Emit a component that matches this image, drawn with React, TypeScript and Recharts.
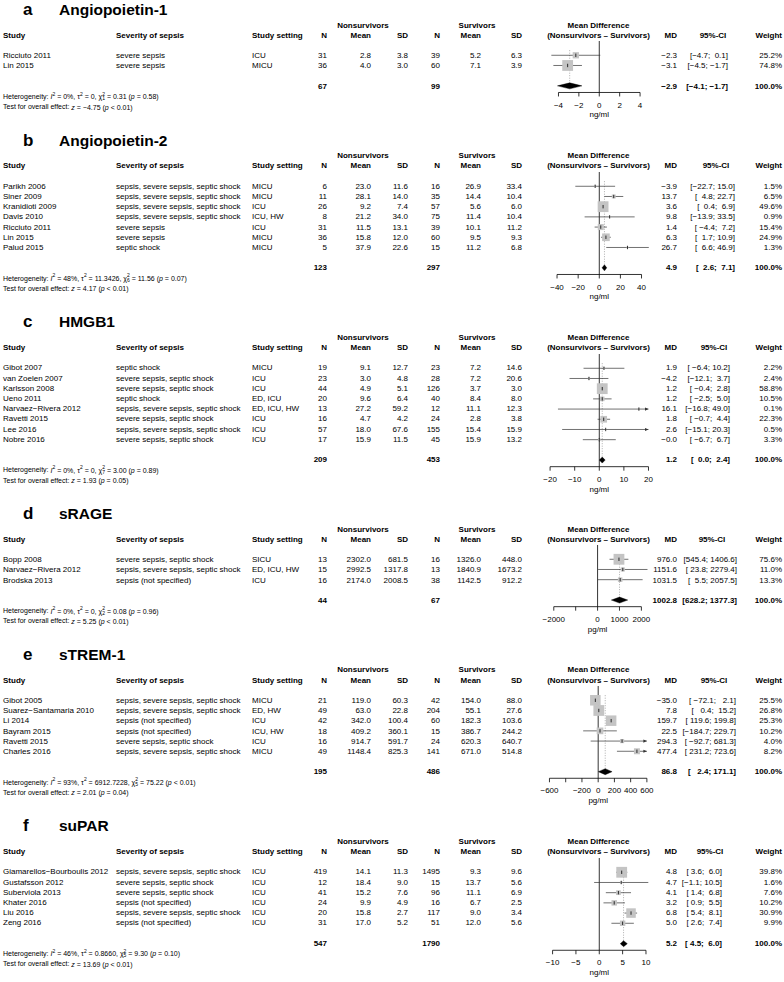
import React from 'react';
import { ScatterChart, Scatter, XAxis, YAxis, ErrorBar, ReferenceLine } from 'recharts';

const FONT = "'Liberation Sans', Arial, Helvetica, sans-serif";

// study, severity, setting, N, mean, SD (nonsurvivors), N, mean, SD (survivors), MD, lower, upper, weight %
type Row = [string, string, string, number, number, number, number, number, number, number, number, number, number];

const angiopoietin1Rows: Row[] = [
  ['Ricciuto 2011', 'severe sepsis', 'ICU', 31, 2.8, 3.8, 39, 5.2, 6.3, -2.3, -4.7, 0.1, 25.2],
  ['Lin 2015', 'severe sepsis', 'MICU', 36, 4.0, 3.0, 60, 7.1, 3.9, -3.1, -4.5, -1.7, 74.8],
];
const angiopoietin2Rows: Row[] = [
  ['Parikh 2006', 'sepsis, severe sepsis, septic shock', 'MICU', 6, 23.0, 11.6, 16, 26.9, 33.4, -3.9, -22.7, 15.0, 1.5],
  ['Siner 2009', 'sepsis, severe sepsis, septic shock', 'MICU', 11, 28.1, 14.0, 35, 14.4, 10.4, 13.7, 4.8, 22.7, 6.5],
  ['Kranidioti 2009', 'sepsis, severe sepsis, septic shock', 'ICU', 26, 9.2, 7.4, 57, 5.6, 6.0, 3.6, 0.4, 6.9, 49.6],
  ['Davis 2010', 'sepsis, severe sepsis, septic shock', 'ICU, HW', 8, 21.2, 34.0, 75, 11.4, 10.4, 9.8, -13.9, 33.5, 0.9],
  ['Ricciuto 2011', 'severe sepsis', 'ICU', 31, 11.5, 13.1, 39, 10.1, 11.2, 1.4, -4.4, 7.2, 15.4],
  ['Lin 2015', 'severe sepsis', 'MICU', 36, 15.8, 12.0, 60, 9.5, 9.3, 6.3, 1.7, 10.9, 24.9],
  ['Palud 2015', 'septic shock', 'MICU', 5, 37.9, 22.6, 15, 11.2, 6.8, 26.7, 6.6, 46.9, 1.3],
];
const hmgb1Rows: Row[] = [
  ['Gibot 2007', 'septic shock', 'MICU', 19, 9.1, 12.7, 23, 7.2, 14.6, 1.9, -6.4, 10.2, 2.2],
  ['van Zoelen 2007', 'severe sepsis, septic shock', 'ICU', 23, 3.0, 4.8, 28, 7.2, 20.6, -4.2, -12.1, 3.7, 2.4],
  ['Karlsson 2008', 'severe sepsis, septic shock', 'ICU', 44, 4.9, 5.1, 126, 3.7, 3.0, 1.2, -0.4, 2.8, 58.8],
  ['Ueno 2011', 'septic shock', 'ED, ICU', 20, 9.6, 6.4, 40, 8.4, 8.0, 1.2, -2.5, 5.0, 10.5],
  ['Narvaez\u2212Rivera 2012', 'sepsis, severe sepsis, septic shock', 'ED, ICU, HW', 13, 27.2, 59.2, 12, 11.1, 12.3, 16.1, -16.8, 49.0, 0.1],
  ['Ravetti 2015', 'severe sepsis, septic shock', 'ICU', 16, 4.7, 4.2, 24, 2.8, 3.8, 1.8, -0.7, 4.4, 22.3],
  ['Lee 2016', 'sepsis, severe sepsis, septic shock', 'ICU', 57, 18.0, 67.6, 155, 15.4, 15.9, 2.6, -15.1, 20.3, 0.5],
  ['Nobre 2016', 'severe sepsis, septic shock', 'ICU', 17, 15.9, 11.5, 45, 15.9, 13.2, -0.0, -6.7, 6.7, 3.3],
];
const sRageRows: Row[] = [
  ['Bopp 2008', 'severe sepsis, septic shock', 'SICU', 13, 2302.0, 681.5, 16, 1326.0, 448.0, 976.0, 545.4, 1406.6, 75.6],
  ['Narvaez\u2212Rivera 2012', 'sepsis, severe sepsis, septic shock', 'ED, ICU, HW', 15, 2992.5, 1317.8, 13, 1840.9, 1673.2, 1151.6, 23.8, 2279.4, 11.0],
  ['Brodska 2013', 'sepsis (not specified)', 'ICU', 16, 2174.0, 2008.5, 38, 1142.5, 912.2, 1031.5, 5.5, 2057.5, 13.3],
];
const sTrem1Rows: Row[] = [
  ['Gibot 2005', 'sepsis, severe sepsis, septic shock', 'MICU', 21, 119.0, 60.3, 42, 154.0, 88.0, -35.0, -72.1, 2.1, 25.5],
  ['Suarez\u2212Santamaria 2010', 'sepsis, severe sepsis, septic shock', 'ED, HW', 49, 63.0, 22.8, 204, 55.1, 27.6, 7.8, 0.4, 15.2, 26.8],
  ['Li 2014', 'sepsis (not specified)', 'ICU', 42, 342.0, 100.4, 60, 182.3, 103.6, 159.7, 119.6, 199.8, 25.3],
  ['Bayram 2015', 'sepsis (not specified)', 'ICU, HW', 18, 409.2, 360.1, 15, 386.7, 244.2, 22.5, -184.7, 229.7, 10.2],
  ['Ravetti 2015', 'severe sepsis, septic shock', 'ICU', 16, 914.7, 591.7, 24, 620.3, 640.7, 294.3, -92.7, 681.3, 4.0],
  ['Charles 2016', 'sepsis, severe sepsis, septic shock', 'MICU', 49, 1148.4, 825.3, 141, 671.0, 514.8, 477.4, 231.2, 723.6, 8.2],
];
const suparRows: Row[] = [
  ['Giamarellos\u2212Bourboulis 2012', 'sepsis, severe sepsis, septic shock', 'ICU', 419, 14.1, 11.3, 1495, 9.3, 9.6, 4.8, 3.6, 6.0, 39.8],
  ['Gustafsson 2012', 'severe sepsis, septic shock', 'ICU', 12, 18.4, 9.0, 15, 13.7, 5.6, 4.7, -1.1, 10.5, 1.6],
  ['Suberviola 2013', 'severe sepsis, septic shock', 'ICU', 41, 15.2, 7.6, 96, 11.1, 6.9, 4.1, 1.4, 6.8, 7.6],
  ['Khater 2016', 'sepsis (not specified)', 'ICU', 24, 9.9, 4.9, 16, 6.7, 2.5, 3.2, 0.9, 5.5, 10.2],
  ['Liu 2016', 'sepsis, severe sepsis, septic shock', 'ICU', 20, 15.8, 2.7, 117, 9.0, 3.4, 6.8, 5.4, 8.1, 30.9],
  ['Zeng 2016', 'sepsis (not specified)', 'ICU', 31, 17.0, 5.2, 51, 12.0, 5.6, 5.0, 2.6, 7.4, 9.9],
];

// N nonsurvivors, N survivors, MD, lower, upper
const angiopoietin1Pooled = [67, 99, -2.9, -4.1, -1.7];
const angiopoietin2Pooled = [123, 297, 4.9, 2.6, 7.1];
const hmgb1Pooled = [209, 453, 1.2, 0.0, 2.4];
const sRagePooled = [44, 67, 1002.8, 628.2, 1377.3];
const sTrem1Pooled = [195, 486, 86.8, 2.4, 171.1];
const suparPooled = [547, 1790, 5.2, 4.5, 6.0];

// I2, tau2, chi2, df, p (heterogeneity), z, p (overall)
const angiopoietin1Stats = ['0%', '0', '0.31', '1', '= 0.58', '\u22124.75', '< 0.01'];
const angiopoietin2Stats = ['48%', '11.3426', '11.56', '6', '= 0.07', '4.17', '< 0.01'];
const hmgb1Stats = ['0%', '0', '3.00', '7', '= 0.89', '1.93', '= 0.05'];
const sRageStats = ['0%', '0', '0.08', '2', '= 0.96', '5.25', '< 0.01'];
const sTrem1Stats = ['93%', '6912.7228', '75.22', '5', '< 0.01', '2.01', '= 0.04'];
const suparStats = ['46%', '0.8660', '9.30', '5', '= 0.10', '13.69', '< 0.01'];

const angiopoietin1Ticks = [-4, -2, 0, 2, 4];
const angiopoietin2Ticks = [-40, -20, 0, 20, 40];
const hmgb1Ticks = [-20, -10, 0, 10, 20];
const sRageTicks = [-2000, -1000, 0, 1000, 2000];
const sTrem1Ticks = [-600, -400, -200, 0, 200, 400, 600];
const suparTicks = [-10, -5, 0, 5, 10];

const panelLetters = ['a', 'b', 'c', 'd', 'e', 'f'];
const panelTitles = ['Angiopoietin-1', 'Angiopoietin-2', 'HMGB1', 'sRAGE', 'sTREM-1', 'suPAR'];
const panelUnits = ['ng/ml', 'ng/ml', 'ng/ml', 'pg/ml', 'pg/ml', 'ng/ml'];

// layout: pixel of zero, pixels per unit, half width of plot range, arrow clip, CI column
const PANEL_LAYOUT = [
  { zero: 599.3, k: 10.2, half: 4.9, arrowAt: Infinity, ciEnd: 728, ciHead: 713, unlabeled: [] as number[] },
  { zero: 599.3, k: 1.056, half: 47.5, arrowAt: Infinity, ciEnd: 735, ciHead: 716, unlabeled: [] },
  { zero: 599.3, k: 2.46, half: 20, arrowAt: 20, ciEnd: 730, ciHead: 714, unlabeled: [] },
  { zero: 597.6, k: 0.0219, half: 2300, arrowAt: Infinity, ciEnd: 737, ciHead: 712, unlabeled: [-1000] },
  { zero: 598.2, k: 0.0812, half: 600, arrowAt: 600, ciEnd: 736, ciHead: 714, unlabeled: [-400] },
  { zero: 599.3, k: 4.67, half: 10.7, arrowAt: Infinity, ciEnd: 722, ciHead: 710, unlabeled: [] },
];

const panels = [
  { rows: angiopoietin1Rows, pooled: angiopoietin1Pooled, stats: angiopoietin1Stats, ticks: angiopoietin1Ticks },
  { rows: angiopoietin2Rows, pooled: angiopoietin2Pooled, stats: angiopoietin2Stats, ticks: angiopoietin2Ticks },
  { rows: hmgb1Rows, pooled: hmgb1Pooled, stats: hmgb1Stats, ticks: hmgb1Ticks },
  { rows: sRageRows, pooled: sRagePooled, stats: sRageStats, ticks: sRageTicks },
  { rows: sTrem1Rows, pooled: sTrem1Pooled, stats: sTrem1Stats, ticks: sTrem1Ticks },
  { rows: suparRows, pooled: suparPooled, stats: suparStats, ticks: suparTicks },
].map((p, i) => ({ ...p, ...PANEL_LAYOUT[i], letter: panelLetters[i], title: panelTitles[i], unit: panelUnits[i] }));

type Panel = (typeof panels)[number];

const U = 10.2; // row height
const BOX_MAX = 10.8;
const FS = 8;

const num1 = (v: number) => (v < 0 || Object.is(v, -0) ? '\u2212' : '') + Math.abs(v).toFixed(1);
const tickNum = (v: number) => (v < 0 ? '\u2212' : '') + Math.abs(v);

function ciStrings(lows: number[], highs: number[]) {
  const l = lows.map(num1);
  const h = highs.map(num1);
  const wl = Math.max(...l.map((s) => s.length));
  const wh = Math.max(...h.map((s) => s.length));
  return l.map((s, i) => `[${s.padStart(wl)}; ${h[i].padStart(wh)}]`);
}

function ForestChart({ p, top }: { p: Panel; top: number }) {
  const n = p.rows.length;
  const yMin = 1.6;
  const yMax = n + 4 + 6.6 / U;
  const plotH = (yMax - yMin) * U;
  const left = p.zero - p.half * p.k;
  const right = p.zero + p.half * p.k;
  const wmax = Math.max(...p.rows.map((r) => r[12]));
  const studies = p.rows.map((r, i) => {
    const lo = Math.max(r[10], -p.arrowAt);
    const hi = Math.min(r[11], p.arrowAt);
    return { x: r[9], y: 3 + i, w: r[12], err: [r[9] - lo, hi - r[9]] };
  });
  const arrows = p.rows
    .map((r, i) => ({ x: r[11] > p.arrowAt ? p.arrowAt : -p.arrowAt, y: 3 + i, dir: r[11] > p.arrowAt ? 1 : -1, on: r[11] > p.arrowAt || r[10] < -p.arrowAt }))
    .filter((a) => a.on);
  const P = n + 4;
  const [, , md, lo, hi] = p.pooled;
  const dh = 3 / U;
  const diamond = [
    { x: lo, y: P },
    { x: md, y: P - dh },
    { x: hi, y: P },
    { x: md, y: P + dh },
  ];
  const height = plotH + 30;

  return (
    <div style={{ position: 'absolute', left: 0, top: top + yMin * U, width: 784, height }}>
      <ScatterChart width={784} height={height} margin={{ top: 0, right: 784 - right, bottom: 0, left }}>
        <XAxis
          type="number"
          dataKey="x"
          domain={[-p.half, p.half]}
          allowDataOverflow
          ticks={p.ticks}
          interval={0}
          axisLine={false}
          tickLine={{ stroke: '#000', strokeWidth: 0.8 }}
          tickSize={4}
          tickMargin={5.4}
          height={30}
          tick={{ fontSize: FS, fill: '#000', fontFamily: FONT }}
          tickFormatter={(v: number) => (p.unlabeled.includes(v) ? '' : tickNum(v))}
          label={{ value: p.unit, position: 'insideBottom', offset: 5, fontSize: FS, fill: '#000', fontFamily: FONT }}
        />
        <YAxis type="number" dataKey="y" domain={[yMin, yMax]} reversed hide allowDataOverflow />
        <ReferenceLine x={0} stroke="#000" strokeWidth={0.8} />
        <ReferenceLine
          segment={[{ x: md, y: 2.5 }, { x: md, y: P }]}
          stroke="#8a8a8a"
          strokeWidth={0.7}
          strokeDasharray="1 1.5"
        />
        <ReferenceLine
          segment={[{ x: p.ticks[0], y: yMax }, { x: p.ticks[p.ticks.length - 1], y: yMax }]}
          stroke="#000"
          strokeWidth={0.8}
          ifOverflow="visible"
        />
        <Scatter
          data={studies}
          isAnimationActive={false}
          shape={(s: any) => {
            const side = BOX_MAX * Math.sqrt(s.payload.w / wmax);
            return <rect x={s.cx - side / 2} y={s.cy - side / 2} width={side} height={side} fill="#c4c4c4" />;
          }}
        />
        <Scatter
          data={studies}
          isAnimationActive={false}
          shape={(s: any) => <line x1={s.cx} x2={s.cx} y1={s.cy - 1.7} y2={s.cy + 1.7} stroke="#000" strokeWidth={0.8} />}
        >
          <ErrorBar dataKey="err" direction="x" width={0} stroke="#333" strokeWidth={0.7} />
        </Scatter>
        <Scatter
          data={arrows}
          isAnimationActive={false}
          shape={(s: any) => {
            const d = s.payload.dir;
            return (
              <path
                d={`M${s.cx} ${s.cy} L${s.cx - d * 3.5} ${s.cy - 1.6} L${s.cx - d * 3.5} ${s.cy + 1.6} Z`}
                fill="#333"
              />
            );
          }}
        />
        <Scatter
          data={diamond}
          isAnimationActive={false}
          shape={() => <g />}
          line={(lp: any) => (
            <polygon points={(lp.points || []).map((q: any) => `${q.x},${q.y}`).join(' ')} fill="#000" stroke="#000" strokeWidth={0.4} />
          )}
        />
      </ScatterChart>
    </div>
  );
}

const COL = {
  study: 3,
  severity: 116,
  setting: 252,
  n1: 327,
  mean1: 371,
  sd1: 408,
  n2: 440,
  mean2: 481,
  sd2: 522,
  md: 677,
  weight: 782,
  nonsurv: 363,
  surv: 477,
  plot: 598.5,
};

function PanelText({ p, top }: { p: Panel; top: number }) {
  const n = p.rows.length;
  const y = (L: number) => top + L * U;
  const cis = ciStrings([...p.rows.map((r) => r[10]), p.pooled[3]], [...p.rows.map((r) => r[11]), p.pooled[4]]);
  const T = (x: number, yy: number, s: string | number, anchor = 'start', bold = false, key?: string) => (
    <text
      key={key}
      x={x}
      y={yy}
      textAnchor={anchor as any}
      dominantBaseline="central"
      fontSize={FS}
      fontWeight={bold ? 700 : 400}
      style={{ whiteSpace: 'pre' }}
    >
      {s}
    </text>
  );
  const [i2, tau2, chi2, df, pHet, z, pZ] = p.stats;
  const P = n + 4;
  return (
    <g>
      <text x={23} y={top - 10} fontWeight={700} fontSize={17}>
        {p.letter}
      </text>
      <text x={59} y={top - 10} fontWeight={700} fontSize={15.5}>
        {p.title}
      </text>
      {T(COL.nonsurv, y(0), 'Nonsurvivors', 'middle', true)}
      {T(COL.surv, y(0), 'Survivors', 'middle', true)}
      {T(COL.plot, y(0), 'Mean Difference', 'middle', true)}
      {T(COL.study, y(1), 'Study', 'start', true)}
      {T(COL.severity, y(1), 'Severity of sepsis', 'start', true)}
      {T(COL.setting, y(1), 'Study setting', 'start', true)}
      {T(COL.n1, y(1), 'N', 'end', true)}
      {T(COL.mean1, y(1), 'Mean', 'end', true)}
      {T(COL.sd1, y(1), 'SD', 'end', true)}
      {T(COL.n2, y(1), 'N', 'end', true)}
      {T(COL.mean2, y(1), 'Mean', 'end', true)}
      {T(COL.sd2, y(1), 'SD', 'end', true)}
      {T(COL.plot, y(1), '(Nonsurvivors \u2013 Survivors)', 'middle', true)}
      {T(COL.md, y(1), 'MD', 'end', true)}
      {T(p.ciHead, y(1), '95%-CI', 'middle', true)}
      {T(COL.weight, y(1), 'Weight', 'end', true)}
      {p.rows.map((r, i) => (
        <g key={i}>
          {T(COL.study, y(3 + i), r[0])}
          {T(COL.severity, y(3 + i), r[1])}
          {T(COL.setting, y(3 + i), r[2])}
          {T(COL.n1, y(3 + i), String(r[3]), 'end')}
          {T(COL.mean1, y(3 + i), num1(r[4]), 'end')}
          {T(COL.sd1, y(3 + i), num1(r[5]), 'end')}
          {T(COL.n2, y(3 + i), String(r[6]), 'end')}
          {T(COL.mean2, y(3 + i), num1(r[7]), 'end')}
          {T(COL.sd2, y(3 + i), num1(r[8]), 'end')}
          {T(COL.md, y(3 + i), num1(r[9]), 'end')}
          {T(p.ciEnd, y(3 + i), cis[i], 'end')}
          {T(COL.weight, y(3 + i), `${r[12].toFixed(1)}%`, 'end')}
        </g>
      ))}
      {T(COL.n1, y(P), String(p.pooled[0]), 'end', true)}
      {T(COL.n2, y(P), String(p.pooled[1]), 'end', true)}
      {T(COL.md, y(P), num1(p.pooled[2]), 'end', true)}
      {T(p.ciEnd, y(P), cis[n], 'end', true)}
      {T(COL.weight, y(P), '100.0%', 'end', true)}
      <text x={COL.study} y={y(P + 1)} fontSize={7} dominantBaseline="central" style={{ whiteSpace: 'pre' }}>
        {'Heterogeneity: '}
        <tspan fontStyle="italic">I</tspan>
        <tspan dy={-2.6} fontSize={5}>2</tspan>
        <tspan dy={2.6}>{` = ${i2}, \u03c4`}</tspan>
        <tspan dy={-2.6} fontSize={5}>2</tspan>
        <tspan dy={2.6}>{` = ${tau2}, \u03c7`}</tspan>
        <tspan dy={-2.6} fontSize={5}>2</tspan>
        <tspan dx={-2.8} dy={4.6} fontSize={5}>{df}</tspan>
        <tspan dy={-2}>{` = ${chi2} (`}</tspan>
        <tspan fontStyle="italic">p</tspan>
        <tspan>{` ${pHet})`}</tspan>
      </text>
      <text x={COL.study} y={y(P + 2)} fontSize={7} dominantBaseline="central" style={{ whiteSpace: 'pre' }}>
        {'Test for overall effect: '}
        <tspan fontStyle="italic">z</tspan>
        <tspan>{` = ${z} (`}</tspan>
        <tspan fontStyle="italic">p</tspan>
        <tspan>{` ${pZ})`}</tspan>
      </text>
    </g>
  );
}

export default function App() {
  let acc = 25;
  const tops = panels.map((p) => {
    const t = acc;
    acc += (p.rows.length + 6) * U + 49;
    return t;
  });
  return (
    <div style={{ position: 'relative', width: 784, height: 982, background: '#fff', overflow: 'hidden' }}>
      <style>{'body{margin:0;}'}</style>
      {panels.map((p, i) => (
        <ForestChart key={i} p={p} top={tops[i]} />
      ))}
      <svg
        width={784}
        height={982}
        style={{ position: 'absolute', left: 0, top: 0, pointerEvents: 'none' }}
        fontFamily={FONT}
        fill="#000"
      >
        {panels.map((p, i) => (
          <PanelText key={i} p={p} top={tops[i]} />
        ))}
      </svg>
    </div>
  );
}
